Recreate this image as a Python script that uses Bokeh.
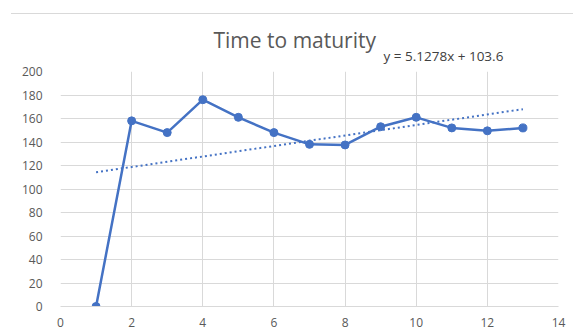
import numpy as np
from bokeh.plotting import figure
from bokeh.models import Title, FixedTicker, Range1d
from bokeh.embed import file_html
from bokeh.resources import INLINE

# data
periods = [1, 2, 3, 4, 5, 6, 7, 8, 9, 10, 11, 12, 13]
maturity = [0, 158, 148, 176, 161, 148, 138, 137.5, 153, 161, 152, 149.5, 152]
x_ticks = [0, 2, 4, 6, 8, 10, 12, 14]
y_ticks = [0, 20, 40, 60, 80, 100, 120, 140, 160, 180, 200]
title_text = "Time to maturity"
eq_text = "y = 5.1278x + 103.6"

BLUE = "#4472C4"
GREY = "#595959"
GRID = "#d9d9d9"
FONT = "Open Sans"

p = figure(width=562, height=317, output_backend="svg", toolbar_location=None,
           x_range=Range1d(0, 14), y_range=Range1d(0, 200),
           min_border_left=49, min_border_right=15, min_border_top=57, min_border_bottom=25)
p.margin = (13, 0, 0, 11)
p.styles = {"border-top": "1px solid #d9d9d9"}
p.outline_line_color = None
p.background_fill_color = "white"

# main title (outermost)
p.title.text = title_text
p.title.align = "left"
p.title.offset = 153
p.title.text_font = FONT
p.title.text_font_size = "21px"
p.title.text_font_style = "normal"
p.title.text_color = GREY
p.title.standoff = -30

# equation (closest to the frame)
eq_title = Title(text=eq_text, align="left", offset=323, text_font=FONT,
                 text_font_size="13.5px", text_font_style="normal", text_color="#404040",
                 standoff=13)
p.add_layout(eq_title, "above")

for ax in (p.xaxis[0], p.yaxis[0]):
    ax.major_tick_line_color = None
    ax.minor_tick_line_color = None
    ax.major_label_text_color = GREY
    ax.major_label_text_font = FONT
    ax.major_label_text_font_size = "12px"
p.xaxis.ticker = FixedTicker(ticks=x_ticks)
p.yaxis.ticker = FixedTicker(ticks=y_ticks)
p.xaxis.axis_line_color = GRID
p.yaxis.axis_line_color = None
p.xaxis.major_label_standoff = 5
p.yaxis.major_label_standoff = 12
p.xgrid.ticker = FixedTicker(ticks=x_ticks)
p.ygrid.ticker = FixedTicker(ticks=y_ticks)
p.xgrid.grid_line_color = GRID
p.ygrid.grid_line_color = GRID

# linear trendline from data
coef = np.polyfit(periods, maturity, 1)
tx = [periods[0], periods[-1]]
ty = [coef[0] * v + coef[1] for v in tx]
p.line(tx, ty, line_color=BLUE, line_width=2, line_dash="2 3")

p.line(periods, maturity, line_color=BLUE, line_width=2.5)
p.scatter(periods, maturity, size=8, fill_color=BLUE, line_color=BLUE)

open("out.html", "w").write(file_html(p, INLINE))
